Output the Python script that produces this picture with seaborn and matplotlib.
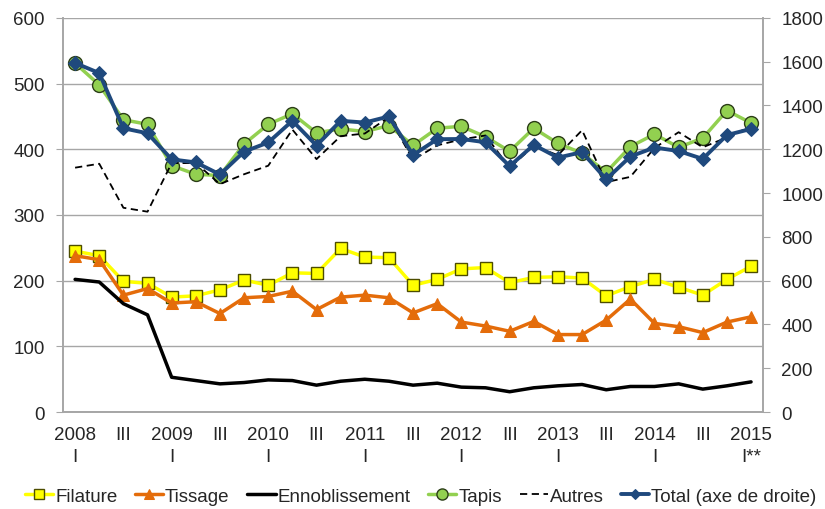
import matplotlib
matplotlib.use("Agg")
import matplotlib.pyplot as plt
import numpy as np
import pandas as pd
import seaborn as sns

# quarters 2008 I .. 2015 I
quarters = [f"{y} {q}" for y in range(2008, 2016) for q in ["I", "II", "III", "IV"]][:29]

filature = [245, 238, 199, 196, 175, 177, 186, 201, 193, 212, 211, 249, 236, 235,
            193, 202, 218, 220, 197, 205, 206, 204, 177, 191, 202, 190, 178, 202, 222]
tissage = [238, 232, 178, 188, 166, 168, 150, 174, 176, 184, 156, 175, 178, 174,
           151, 165, 137, 131, 123, 138, 118, 118, 140, 172, 135, 130, 121, 137, 145]
ennoblissement = [202, 198, 165, 148, 53, 48, 43, 45, 49, 48, 41, 47, 50, 47,
                  41, 44, 38, 37, 31, 37, 40, 42, 34, 39, 39, 43, 35, 40, 46]
tapis = [531, 498, 445, 438, 375, 362, 360, 408, 438, 454, 425, 431, 427, 436,
         406, 432, 435, 419, 397, 432, 409, 394, 365, 404, 423, 403, 417, 459, 440]
autres = [372, 378, 311, 305, 379, 379, 347, 362, 375, 430, 385, 420, 424, 449,
          384, 406, 415, 421, 372, 405, 391, 429, 350, 358, 402, 426, 403, 418, 435]
total = [1594, 1548, 1296, 1273, 1154, 1140, 1085, 1189, 1231, 1330, 1217, 1330, 1322, 1350,
         1174, 1246, 1247, 1232, 1123, 1220, 1162, 1187, 1063, 1167, 1208, 1192, 1156, 1265, 1293]

tick_labels = []
for i, q in enumerate(quarters):
    year, roman = q.split()
    if i % 4 == 0:
        tick_labels.append(f"{year}\nI**" if i == len(quarters) - 1 else f"{year}\nI")
    else:
        tick_labels.append("III")

df = pd.DataFrame({
    "pos": np.arange(len(quarters)),
    "Filature": filature,
    "Tissage": tissage,
    "Ennoblissement": ennoblissement,
    "Tapis": tapis,
    "Autres": autres,
    "Total": total,
})

sns.set_style("white")
plt.rcParams["font.family"] = ["Liberation Sans", "DejaVu Sans"]
plt.rcParams["font.size"] = 13.5

grey = "#a6a6a6"

fig, ax = plt.subplots(figsize=(8.25, 5.1), dpi=100)
fig.subplots_adjust(left=0.0764, right=0.925, top=0.963, bottom=0.19)
ax2 = ax.twinx()

sns.lineplot(data=df, x="pos", y="Filature", ax=ax, color="#ffff00", linewidth=2.5,
             marker="s", markersize=9, markerfacecolor="#ffff00", markeredgecolor="#4d4d00",
             markeredgewidth=1, label="Filature", legend=False)
sns.lineplot(data=df, x="pos", y="Tissage", ax=ax, color="#e46c0a", linewidth=2.5,
             marker="^", markersize=9, markerfacecolor="#e46c0a", markeredgecolor="#e46c0a",
             label="Tissage", legend=False)
sns.lineplot(data=df, x="pos", y="Ennoblissement", ax=ax, color="black", linewidth=2.5,
             label="Ennoblissement", legend=False)
sns.lineplot(data=df, x="pos", y="Tapis", ax=ax, color="#92d050", linewidth=2.5,
             marker="o", markersize=10, markerfacecolor="#92d050", markeredgecolor="#2b3d17",
             markeredgewidth=1, label="Tapis", legend=False)
sns.lineplot(data=df, x="pos", y="Autres", ax=ax, color="black", linewidth=1.3,
             linestyle=(0, (4, 2.5)), label="Autres", legend=False)
sns.lineplot(data=df, x="pos", y="Total", ax=ax2, color="#1f497d", linewidth=2.8,
             marker="D", markersize=7, markerfacecolor="#1f497d", markeredgecolor="#1f497d",
             label="Total (axe de droite)", legend=False)

ax.set_xlim(-0.5, len(quarters) - 0.5)
ax.set_ylim(0, 600)
ax.set_yticks(np.arange(0, 601, 100))
ax2.set_ylim(0, 1800)
ax2.set_yticks(np.arange(0, 1801, 200))

ax.yaxis.grid(True, color=grey, linewidth=1)
ax.xaxis.grid(False)
ax.set_xlabel("")
ax.set_ylabel("")
ax2.set_ylabel("")

ax.set_xticks(np.arange(0, len(quarters), 2))
ax.set_xticklabels(tick_labels[::2], linespacing=1.35)
ax.set_xticks(np.arange(-0.5, len(quarters), 1), minor=True)
ax.tick_params(axis="x", which="major", length=0, pad=10)
ax.tick_params(axis="x", which="minor", length=5, color=grey, direction="out")
ax.tick_params(axis="y", length=5, color=grey, direction="out", pad=8)
ax2.tick_params(axis="y", length=5, color=grey, direction="out", pad=8)

for a in (ax, ax2):
    a.spines["top"].set_visible(False)
    for side in ["left", "right", "bottom"]:
        a.spines[side].set_color(grey)
        a.spines[side].set_linewidth(1.2)

handles = ax.get_lines()[:5] + ax2.get_lines()[:1]
labels = ["Filature", "Tissage", "Ennoblissement", "Tapis", "Autres", "Total (axe de droite)"]
fig.legend(handles, labels, loc="lower center", bbox_to_anchor=(0.51, -0.025), ncol=6,
           frameon=False, handlelength=1.5, handletextpad=0.1, columnspacing=0.95,
           markerscale=0.8, fontsize=13.5)

fig.savefig("out.png", dpi=100)
